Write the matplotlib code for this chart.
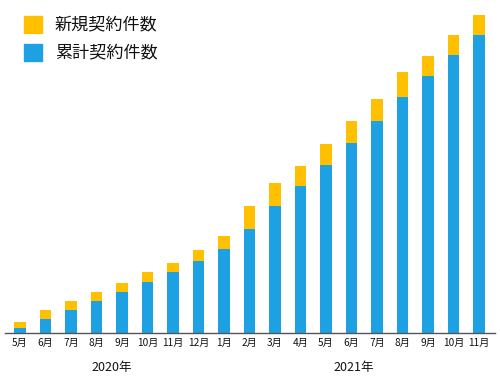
import matplotlib
matplotlib.use("Agg")
import matplotlib.pyplot as plt
import matplotlib.transforms as mtransforms
import numpy as np

plt.rcParams['font.family'] = ['Noto Sans CJK JP', 'DejaVu Sans']

months = ["5月", "6月", "7月", "8月", "9月", "10月", "11月", "12月", "1月", "2月",
          "3月", "4月", "5月", "6月", "7月", "8月", "9月", "10月", "11月"]
cumulative = [5.3, 14.3, 23.3, 32.3, 41.3, 51.3, 61, 72, 84, 104,
              127, 147, 168, 190.3, 212.3, 236.3, 257, 277.7, 298]
new = [5.7, 9, 8.7, 9, 8.7, 9.7, 9.3, 11, 13, 23,
       22.7, 20.3, 21.3, 21.7, 21.7, 24.7, 20, 20.6, 20.3]
years = ["2020年", "2021年"]
year_pos = [3.6, 13.1]
legend_labels = ["新規契約件数", "累計契約件数"]

yellow = "#FFC000"
blue = "#1DA1E2"

W, H = 500, 388
fig = plt.figure(figsize=(W / 100, H / 100), dpi=100)
ax_left, ax_right = 5, 495
base_y, top_y = 333, 5
ax = fig.add_axes([ax_left / W, (H - base_y) / H, (ax_right - ax_left) / W, (base_y - top_y) / H])

x = np.arange(len(months))
ax.bar(x, cumulative, width=0.47, color=blue, edgecolor="none")
ax.bar(x, new, bottom=cumulative, width=0.47, color=yellow, edgecolor="none")

ax.set_xlim((ax_left - 20) / 25.5, (ax_right - 20) / 25.5)
ax.set_ylim(0, base_y - top_y)

for s in ["top", "right", "left"]:
    ax.spines[s].set_visible(False)
ax.spines["bottom"].set_color("#555555")
ax.spines["bottom"].set_linewidth(1.0)
ax.set_yticks([])
ax.set_xticks(x)
ax.set_xticklabels(months, fontsize=7.3, color="#111111")
ax.tick_params(axis="x", length=0, pad=3.5)

trans = mtransforms.blended_transform_factory(ax.transData, fig.transFigure)
for yl, xp in zip(years, year_pos):
    fig.text(xp, (H - 367) / H, yl, transform=trans, ha="center", va="center",
             fontsize=9, color="#111111")

# legend
for i, (lab, col) in enumerate(zip(legend_labels, [yellow, blue])):
    yc = 24.5 + i * 27.5
    fig.patches.append(plt.Rectangle((24 / W, (H - yc - 8.5) / H), 18 / W, 17 / H,
                                     transform=fig.transFigure, color=col, figure=fig))
    fig.text(55 / W, (H - yc) / H, lab, ha="left", va="center", fontsize=12.3, color="#111111")

fig.savefig("out.png", dpi=100)
